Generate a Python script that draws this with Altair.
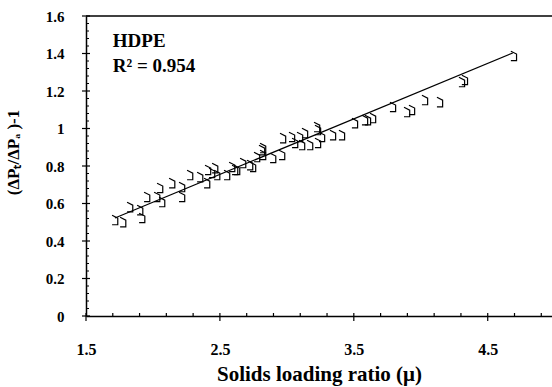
import altair as alt
import pandas as pd

# Measured data points (Solids loading ratio, (dPt/dPa)-1)
mu = [1.716, 1.776, 1.828, 1.903, 1.918, 1.955, 2.030, 2.052, 2.067, 2.142,
      2.216, 2.216, 2.276, 2.351, 2.403, 2.410, 2.440, 2.463, 2.478, 2.552,
      2.590, 2.612, 2.627, 2.672, 2.724, 2.746, 2.776, 2.813, 2.821, 2.821,
      2.896, 2.963, 2.970, 3.037, 3.060, 3.097, 3.112, 3.134, 3.172, 3.224,
      3.231, 3.231, 3.261, 3.343, 3.410, 3.507, 3.582, 3.604, 3.642, 3.791,
      3.896, 3.933, 4.030, 4.142, 4.306, 4.328, 4.694]
dp = [0.512, 0.501, 0.581, 0.565, 0.523, 0.635, 0.635, 0.683, 0.608, 0.709,
      0.688, 0.635, 0.752, 0.741, 0.709, 0.779, 0.763, 0.789, 0.752, 0.752,
      0.795, 0.779, 0.779, 0.816, 0.805, 0.795, 0.848, 0.885, 0.859, 0.896,
      0.843, 0.859, 0.949, 0.955, 0.923, 0.955, 0.912, 0.976, 0.912, 1.008,
      0.992, 0.923, 0.955, 0.965, 0.965, 1.029, 1.045, 1.045, 1.056, 1.115,
      1.088, 1.099, 1.152, 1.141, 1.248, 1.259, 1.387]

# Fitted line end points
fit_x = [1.716, 4.687]
fit_y = [0.523, 1.403]

x_major = [1.5, 2.5, 3.5, 4.5]
x_minor = [1.7, 1.9, 2.1, 2.3, 2.7, 2.9, 3.1, 3.3, 3.7, 3.9, 4.1, 4.3, 4.7, 4.9]
y_major = [0, 0.2, 0.4, 0.6, 0.8, 1.0, 1.2, 1.4, 1.6]
y_minor = [round(m + k * 0.04, 2) for m in y_major[:-1] for k in (1, 2, 3, 4)]

labels_txt = ["HDPE", "R² = 0.954"]
labels_x = [1.70, 1.70]
labels_y = [1.465, 1.335]

FONT = "Liberation Serif"
XDOM = [1.5, 4.98]
YDOM = [0, 1.6]

pts = pd.DataFrame({"mu": mu, "dp": dp})
fit = pd.DataFrame({"mu": fit_x, "dp": fit_y})

xs = alt.Scale(domain=XDOM, nice=False, zero=False)
ys = alt.Scale(domain=YDOM, nice=False, zero=False)

ax_x = alt.Axis(
    title="Solids loading ratio (μ)", values=x_major, format=".1f",
    ticks=False, grid=False, domainColor="black", domainWidth=1.5,
    labelFont=FONT, labelFontSize=16, labelFontWeight="bold", labelColor="black",
    labelPadding=25, titleFont=FONT, titleFontSize=21, titleFontWeight="bold",
    titleColor="black", titlePadding=6, labelFlush=False, labelOverlap=False)
ax_y = alt.Axis(
    title="(ΔPₜ/ΔPₐ )-1", values=y_major,
    labelExpr="datum.value == 0 ? '0' : (datum.value == 1 ? '1' : format(datum.value, '.1f'))",
    ticks=False, grid=False, domainColor="black", domainWidth=1.5,
    labelFont=FONT, labelFontSize=15, labelFontWeight="bold", labelColor="black",
    labelPadding=22, titleFont=FONT, titleFontSize=17, titleFontWeight="bold",
    titleColor="black", titleX=-64, titleY=136, labelFlush=False, labelOverlap=False,
    labelBound=False)

X = alt.X("mu:Q", scale=xs, axis=ax_x)
Y = alt.Y("dp:Q", scale=ys, axis=ax_y)

shape_path = "M -0.6 -1 L 0.6 -0.4 L 0.6 1 L -0.6 1"

points = alt.Chart(pts).mark_point(
    shape=shape_path, filled=False, color="black", strokeWidth=1.2, size=90, opacity=1
).encode(x=X, y=Y)

line = alt.Chart(fit).mark_line(color="black", strokeWidth=1.2).encode(x=X, y=Y)

top_border = alt.Chart(pd.DataFrame({"dp": [1.6]})).mark_rule(color="black", strokeWidth=1.5).encode(
    y=Y, x=alt.value(0), x2=alt.value(470))

xmaj = alt.Chart(pd.DataFrame({"mu": x_major})).mark_rule(color="black", strokeWidth=1.2).encode(
    x=X, y=alt.value(297), y2=alt.value(305))
xmin = alt.Chart(pd.DataFrame({"mu": x_minor})).mark_rule(color="black", strokeWidth=1.2).encode(
    x=X, y=alt.value(297), y2=alt.value(300))
ymaj = alt.Chart(pd.DataFrame({"dp": y_major})).mark_rule(color="black", strokeWidth=1.2).encode(
    y=Y, x=alt.value(-4), x2=alt.value(4))
ymin = alt.Chart(pd.DataFrame({"dp": y_minor})).mark_rule(color="black", strokeWidth=1.0).encode(
    y=Y, x=alt.value(0), x2=alt.value(3))

ann = alt.Chart(pd.DataFrame({"t": labels_txt, "mu": labels_x, "dp": labels_y})).mark_text(
    align="left", baseline="middle", font=FONT, fontSize=19, fontWeight="bold", color="black"
).encode(x=X, y=Y, text="t:N")

chart = alt.layer(points, line, top_border, xmaj, xmin, ymaj, ymin, ann).properties(
    width=466, height=300,
    padding={"left": 86, "top": 16, "right": 0, "bottom": 71},
    autosize=alt.AutoSizeParams(type="none"),
    background="white",
).configure_view(stroke=None).configure_axis(labelOverlap=False)

chart.save("out.html", embed_options={"renderer": "svg", "actions": False})
